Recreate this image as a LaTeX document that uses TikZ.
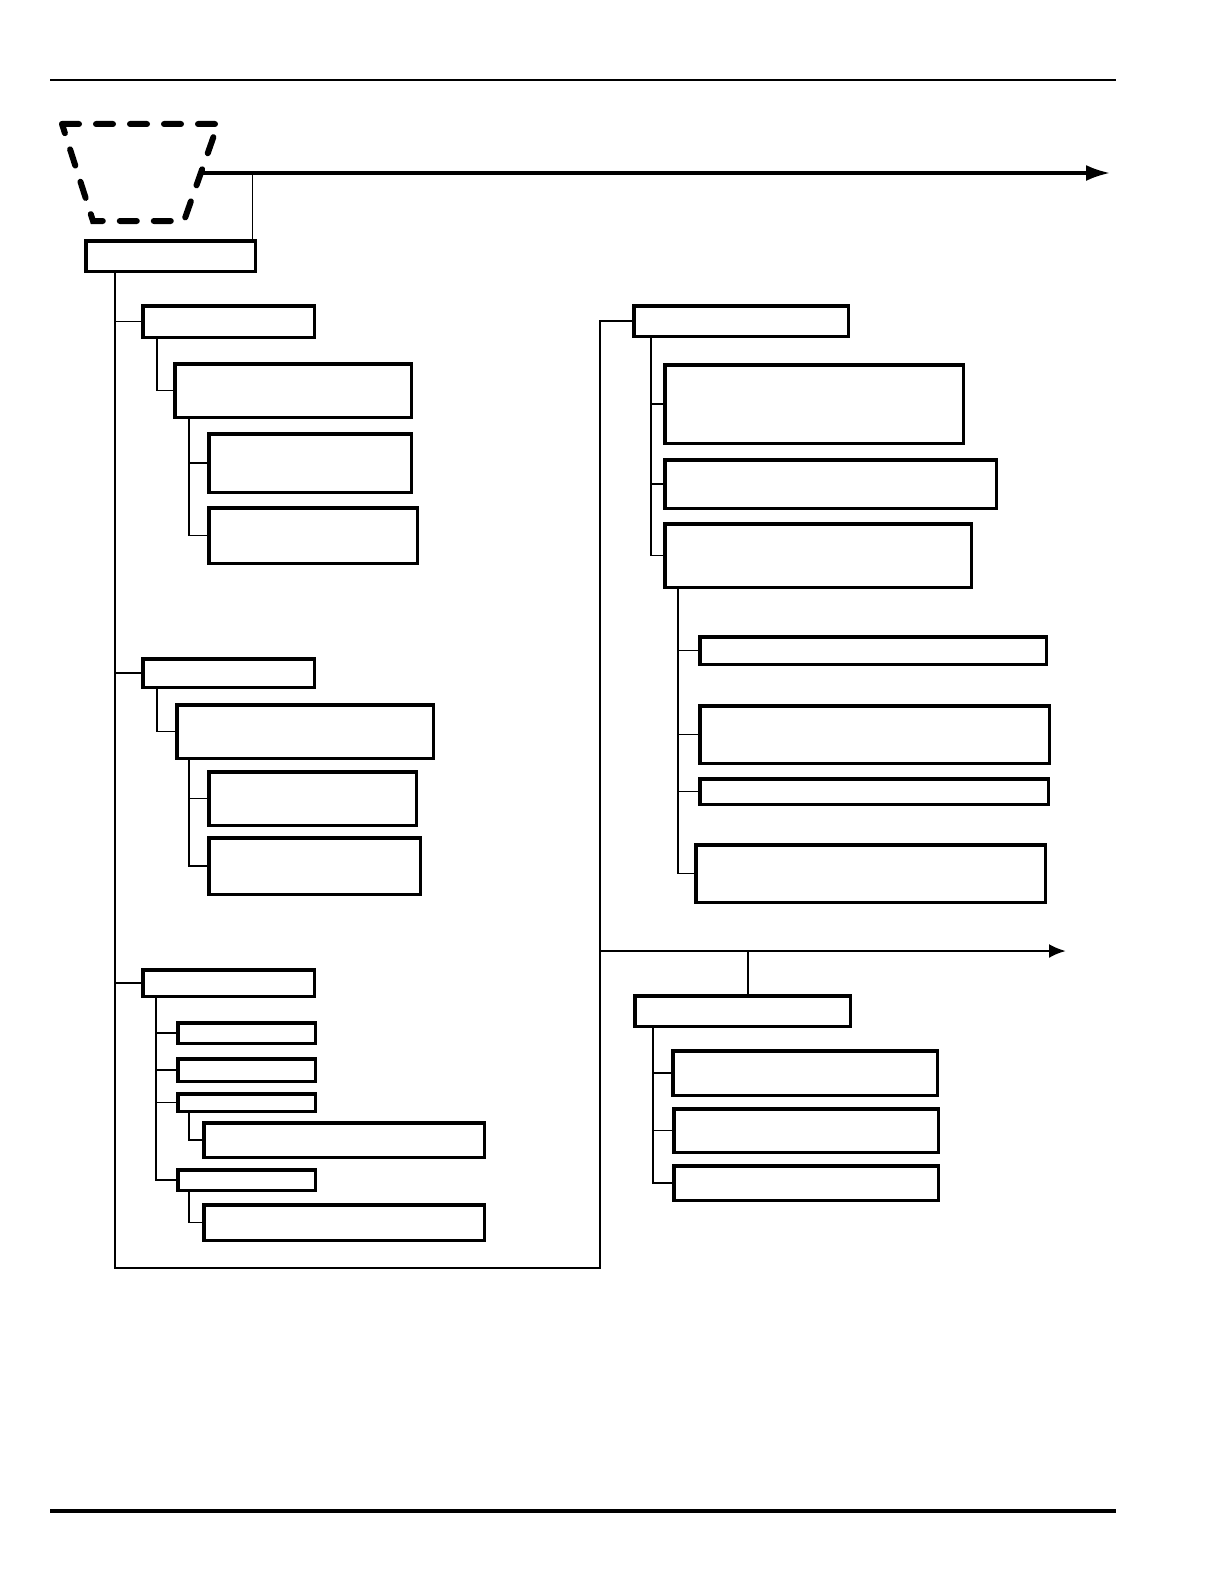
\documentclass[tikz,border=0pt]{standalone}
\usepackage{tikz}
\usetikzlibrary{arrows.meta}

\begin{document}
\begin{tikzpicture}[x=0.5pt,y=-0.5pt,
                blk/.style={draw,rectangle,line width=1.75pt,inner sep=0pt,outer sep=0pt},
                wire/.style={line width=0.95pt},
                bus/.style={line width=1.6pt},
                hopper/.style={line width=3pt,line cap=round,dash pattern=on 8.5pt off 8.5pt}]
                \useasboundingbox (0,0) rectangle (1224,1584);
                % page rules
                \coordinate (rl1) at (50,80);   \coordinate (rr1) at (1116,80);
                \coordinate (rl2) at (50,1511); \coordinate (rr2) at (1116,1511);
                \draw[line width=1pt] (rl1) -- (rr1);
                \draw[line width=2pt] (rl2) -- (rr2);
                % dashed hopper
                \draw[hopper] (62,124) -- (218,124) -- (184,221) -- (93,221) -- cycle;
                \coordinate (feed) at (203,173);
                \coordinate (feedend) at (1110,173);
                \coordinate (tap) at (252.5,173);
                % left column
                \node[blk,minimum width=84.75pt,minimum height=15.25pt] (root) at (170.5,256) {};
                \node[blk,minimum width=85.75pt,minimum height=15.75pt] (L1) at (228.5,321.5) {};
                \node[blk,minimum width=118.25pt,minimum height=26.75pt] (L1a) at (293,390.5) {};
                \node[blk,minimum width=101.25pt,minimum height=29.25pt] (L1a1) at (310,463) {};
                \node[blk,minimum width=104.25pt,minimum height=27.75pt] (L1a2) at (313,535.5) {};
                \node[blk,minimum width=85.75pt,minimum height=14.25pt] (L2) at (228.5,673) {};
                \node[blk,minimum width=128.25pt,minimum height=26.75pt] (L2a) at (305,731.5) {};
                \node[blk,minimum width=103.75pt,minimum height=26.75pt] (L2a1) at (312.5,798.5) {};
                \node[blk,minimum width=105.75pt,minimum height=28.25pt] (L2a2) at (314.5,866) {};
                \node[blk,minimum width=85.75pt,minimum height=13.25pt] (L3) at (228.5,983) {};
                \node[blk,minimum width=68.75pt,minimum height=10.25pt] (L3a) at (246.5,1033) {};
                \node[blk,minimum width=68.75pt,minimum height=11.25pt] (L3b) at (246.5,1070) {};
                \node[blk,minimum width=68.75pt,minimum height=8.75pt] (L3c) at (246.5,1102.5) {};
                \node[blk,minimum width=140.25pt,minimum height=17.25pt] (L3c1) at (344,1140) {};
                \node[blk,minimum width=68.75pt,minimum height=10.25pt] (L3d) at (246.5,1180) {};
                \node[blk,minimum width=140.25pt,minimum height=17.75pt] (L3d1) at (344,1222.5) {};
                % right column
                \node[blk,minimum width=107.25pt,minimum height=15.25pt] (R1) at (741,321) {};
                \node[blk,minimum width=149.25pt,minimum height=39.25pt] (R1a) at (814,404) {};
                \node[blk,minimum width=165.75pt,minimum height=24.25pt] (R1b) at (830.5,484) {};
                \node[blk,minimum width=153.25pt,minimum height=31.75pt] (R1c) at (818,555.5) {};
                \node[blk,minimum width=173.25pt,minimum height=13.75pt] (R1c1) at (873,650.5) {};
                \node[blk,minimum width=174.75pt,minimum height=28.75pt] (R1c2) at (874.5,734.5) {};
                \node[blk,minimum width=174.25pt,minimum height=12.75pt] (R1c3) at (874,791.5) {};
                \node[blk,minimum width=174.75pt,minimum height=28.75pt] (R1c4) at (870.5,873.5) {};
                \node[blk,minimum width=107.75pt,minimum height=15.25pt] (R2) at (742.5,1011) {};
                \node[blk,minimum width=132.25pt,minimum height=22.25pt] (R2a) at (805,1073) {};
                \node[blk,minimum width=132.25pt,minimum height=21.75pt] (R2b) at (806,1130.5) {};
                \node[blk,minimum width=132.25pt,minimum height=17.25pt] (R2c) at (806,1183) {};
                % trunk
                \coordinate (lt) at (115,1268);
                \coordinate (rt) at (600,1268);
                \coordinate (mid) at (600,951);
                \coordinate (midend) at (1066,951);
                \coordinate (tap2) at (748,951);
                \draw[bus,-{Latex[length=12pt,width=8pt]}] (feed) -- (feedend);
                \draw[wire] (tap) -- (root.north -| tap);
                \draw[wire] (root.south -| lt) -- (lt) -- (rt) -- (R1.west -| rt) -- (R1.west);
                \draw[wire] (L1.west -| lt) -- (L1.west);
                \draw[wire] (L2.west -| lt) -- (L2.west);
                \draw[wire] (L3.west -| lt) -- (L3.west);
                \draw[bus,line width=1.35pt,-{Latex[length=8.5pt,width=7pt]}] (mid) -- (midend);
                \draw[wire] (tap2) -- (R2.north -| tap2);
                % branches
                \draw[wire] ([xshift=7.1pt]L1.south west) |- (L1a.west);
                \draw[wire] ([xshift=7.3pt]L1a.south west) |- (L1a1.west);
                \draw[wire] ([xshift=7.3pt]L1a.south west) |- (L1a2.west);
                \draw[wire] ([xshift=7.1pt]L2.south west) |- (L2a.west);
                \draw[wire] ([xshift=6.1pt]L2a.south west) |- (L2a1.west);
                \draw[wire] ([xshift=6.1pt]L2a.south west) |- (L2a2.west);
                \draw[wire] ([xshift=6.6pt]L3.south west) |- (L3a.west);
                \draw[wire] ([xshift=6.6pt]L3.south west) |- (L3b.west);
                \draw[wire] ([xshift=6.6pt]L3.south west) |- (L3c.west);
                \draw[wire] ([xshift=6.6pt]L3.south west) |- (L3d.west);
                \draw[wire] ([xshift=5.6pt]L3c.south west) |- (L3c1.west);
                \draw[wire] ([xshift=5.6pt]L3d.south west) |- (L3d1.west);
                \draw[wire] ([xshift=8.6pt]R1.south west) |- (R1a.west);
                \draw[wire] ([xshift=8.6pt]R1.south west) |- (R1b.west);
                \draw[wire] ([xshift=8.6pt]R1.south west) |- (R1c.west);
                \draw[wire] ([xshift=6.6pt]R1c.south west) |- (R1c1.west);
                \draw[wire] ([xshift=6.6pt]R1c.south west) |- (R1c2.west);
                \draw[wire] ([xshift=6.6pt]R1c.south west) |- (R1c3.west);
                \draw[wire] ([xshift=6.6pt]R1c.south west) |- (R1c4.west);
                \draw[wire] ([xshift=9.1pt]R2.south west) |- (R2a.west);
                \draw[wire] ([xshift=9.1pt]R2.south west) |- (R2b.west);
                \draw[wire] ([xshift=9.1pt]R2.south west) |- (R2c.west);
\end{tikzpicture}
\end{document}
